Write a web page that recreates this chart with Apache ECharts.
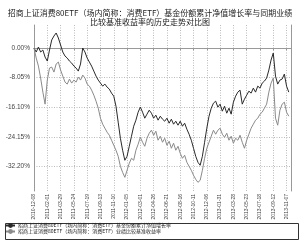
<!DOCTYPE html>
<html><head><meta charset="utf-8">
<script src="https://cdn.jsdelivr.net/npm/echarts@6/dist/echarts.min.js"></script>
<style>html,body{margin:0;padding:0;background:#fff}#c{width:300px;height:240px}</style>
</head><body><div id="c"></div>
<script>
// tick labels on the x axis (one every 6 samples)
const tickLabels = ['2010-12-08','2011-02-01','2011-03-29','2011-05-24','2011-07-19','2011-09-13','2011-11-10','2012-01-05','2012-03-01','2012-04-26','2012-06-21','2012-08-16','2012-10-11','2012-12-06','2013-01-31','2013-03-28','2013-05-23','2013-07-18','2013-09-12','2013-11-07'];
const yTicks = [0, -8.05, -16.10, -24.15, -32.20];
const seriesNames = ['招商上证消费80ETF（场内简称：消费ETF）基金份额累计净值增长率','招商上证消费80ETF（场内简称：消费ETF）业绩比较基准收益率'];
// fund cumulative NAV growth (%), sampled
const fundValues = [0,-1.09,0.27,-1.09,-0.54,-2.45,-3.54,-0.54,2.18,3.26,4.08,2.72,0.82,-1.09,-2.18,-2.72,-3.54,-4.08,-4.90,-5.44,-6.26,-4.35,0,-1.09,-2.72,-3.81,-4.90,-6.26,-7.62,-8.70,-9.52,-10.34,-9.79,-10.61,-11.15,-12.24,-13.06,-15.78,-20.13,-24.48,-27.74,-30.46,-29.38,-26.66,-23.94,-21.22,-19.58,-17.41,-16.05,-17.41,-19.04,-17.95,-16.86,-17.68,-19.04,-18.22,-19.58,-18.50,-19.31,-19.86,-19.04,-20.40,-19.31,-20.67,-19.86,-20.94,-19.86,-21.22,-20.40,-22.03,-23.39,-25.02,-27.20,-29.38,-31.01,-31.82,-29.38,-25.57,-21.76,-18.50,-16.32,-14.96,-14.42,-16.05,-15.23,-17.14,-15.78,-17.68,-16.32,-17.95,-14.69,-13.06,-11.97,-11.42,-15.23,-13.87,-12.78,-11.70,-12.24,-10.88,-11.97,-10.34,-10.88,-9.52,-8.98,-8.16,-5.98,-3.26,-1.36,-7.62,-9.79,-8.70,-8.43,-7.07,-10.34,-11.97];
// benchmark return (%), sampled
const benchValues = [0,-2.72,-4.90,-8.16,-11.97,-15.23,-8.70,-5.44,-5.17,-6.53,-4.35,-3.81,-5.98,-7.62,-9.25,-9.79,-8.43,-9.52,-8.70,-9.25,-7.89,-8.70,-7.34,-8.16,-9.79,-10.34,-11.42,-12.78,-14.42,-16.32,-19.04,-20.67,-21.76,-22.85,-23.66,-25.02,-26.38,-27.74,-29.38,-32.10,-33.73,-35.09,-33.18,-31.28,-29.92,-30.46,-27.74,-26.11,-24.21,-25.57,-26.66,-24.48,-23.12,-22.30,-23.66,-22.58,-25.02,-23.94,-25.57,-24.48,-26.38,-25.30,-27.20,-25.84,-27.74,-26.66,-28.56,-29.92,-29.10,-31.01,-32.10,-33.18,-34.54,-35.63,-36.45,-35.90,-33.18,-29.92,-27.20,-25.57,-23.94,-22.30,-23.39,-22.30,-21.76,-23.39,-24.21,-23.12,-25.02,-23.94,-25.84,-24.48,-25.02,-23.66,-25.57,-27.20,-25.02,-23.39,-21.76,-20.67,-19.58,-19.04,-17.95,-17.41,-16.32,-15.23,-11.97,-9.52,-8.16,-19.04,-20.94,-16.86,-15.23,-14.69,-17.41,-18.50];

const toPairs = arr => arr.map((v, i) => [i, v]);
const chart = echarts.init(document.getElementById('c'), null, {renderer: 'canvas'});
const grid = {left: 34, right: 9, top: 25, bottom: 49};
chart.setOption({
  animation: false,
  backgroundColor: '#fff',
  title: {
    text: '招商上证消费80ETF（场内简称：消费ETF）基金份额累计净值增长率与同期业绩\n比较基准收益率的历史走势对比图',
    left: 'center', top: 3,
    textStyle: {fontSize: 8, fontWeight: 'normal', color: '#222', lineHeight: 9, fontFamily: 'Noto Sans CJK SC'}
  },
  grid: grid,
  graphic: [{type: 'rect', left: 3, top: 221, shape: {width: 293, height: 16}, style: {fill: 'none', stroke: '#333', lineWidth: 1}, silent: true}],
  legend: {
    orient: 'vertical', left: 5, top: 223, padding: 0, itemGap: 1,
    itemWidth: 9, itemHeight: 6,
    textStyle: {fontSize: 5, color: '#222', fontFamily: 'Noto Sans CJK SC', padding: [0,0,0,-2]},
    data: seriesNames
  },
  xAxis: {
    type: 'value', min: 0, max: 116, interval: 6,
    axisLine: {lineStyle: {color: '#999'}},
    axisTick: {show: true, length: 2, lineStyle: {color: '#999'}},
    axisLabel: {rotate: 90, fontSize: 5, color: '#444', margin: 3, fontFamily: 'Liberation Sans',
      formatter: v => tickLabels[Math.round(v / 6)] || ''},
    splitLine: {show: true, lineStyle: {color: '#bbb', type: [1, 1.5], width: 1}}
  },
  yAxis: [{
    type: 'value', min: -38.8, max: 6.25,
    axisLine: {show: true, lineStyle: {color: '#999'}},
    axisTick: {show: false, customValues: yTicks},
    axisLabel: {customValues: yTicks, fontSize: 6.5, color: '#444', margin: 4, fontFamily: 'Liberation Sans',
      formatter: v => v.toFixed(2) + '%'},
    splitLine: {show: true, lineStyle: {color: '#bbb', type: [1, 1.5], width: 1}}
  }, {
    type: 'value', min: -38.8, max: 6.25, position: 'right',
    axisLine: {show: true, lineStyle: {color: '#999'}},
    axisTick: {show: false}, axisLabel: {show: false}, splitLine: {show: false}
  }],
  series: [{
    name: seriesNames[0], type: 'line', data: toPairs(fundValues), symbol: 'none',
    lineStyle: {color: '#2a2a2a', width: 1}, itemStyle: {color: '#2a2a2a'}
  }, {
    name: seriesNames[1], type: 'line', data: toPairs(benchValues), symbol: 'none',
    lineStyle: {color: '#8a8a8a', width: 1}, itemStyle: {color: '#8a8a8a'}
  }]
});
</script></body></html>
